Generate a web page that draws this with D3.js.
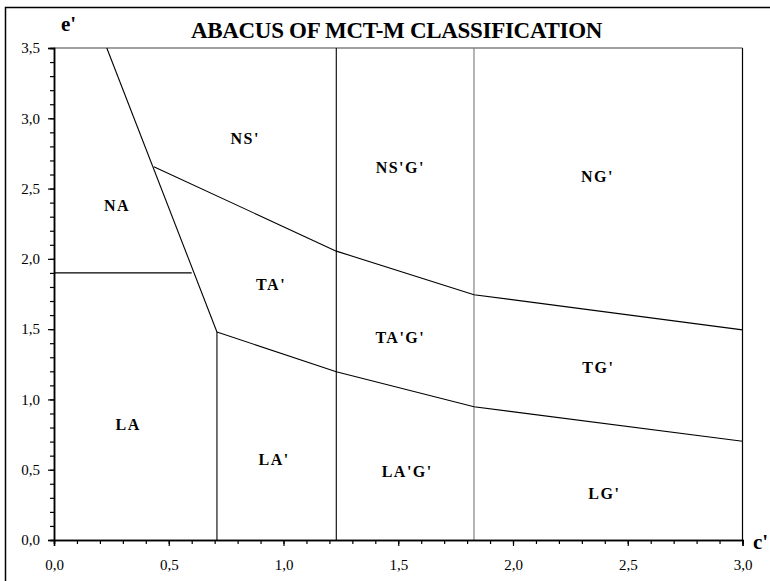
<!DOCTYPE html>
<html>
<head>
<meta charset="utf-8">
<script src="https://cdn.jsdelivr.net/npm/d3@7"></script>
<style>
  html, body { margin: 0; padding: 0; background: #fff; }
  svg { display: block; }
</style>
</head>
<body>
<svg id="chart" width="770" height="581"></svg>
<script>
// Axis extents and tick values
const xDomain = [0, 3];
const yDomain = [0, 3.5];
const xMajorTicks = [0, 0.5, 1, 1.5, 2, 2.5, 3];
const yMajorTicks = [0, 0.5, 1, 1.5, 2, 2.5, 3, 3.5];

// Class boundaries (c', e')
const steepBoundary = [[0.23, 3.5], [0.71, 1.48]];
const naLaBoundary = [[0, 1.9], [0.6, 1.9]];
const laSplit = [[0.71, 0], [0.71, 1.48]];
const upperBoundary = [[0.435, 2.655], [1.23, 2.055], [1.83, 1.745], [3.0, 1.495]];
const lowerBoundary = [[0.71, 1.48], [1.23, 1.197], [1.83, 0.948], [3.0, 0.702]];
const gSplitA = [[1.23, 0], [1.23, 3.5]];
const gSplitB = [[1.83, 0], [1.83, 3.5]];

// Region names and where they sit (c', e')
const regionNames = ["NS'", "NS'G'", "NG'", "NA", "TA'", "TA'G'", "TG'", "LA", "LA'", "LA'G'", "LG'"];
const regionC = [0.833, 1.509, 2.368, 0.275, 0.946, 1.509, 2.372, 0.323, 0.959, 1.539, 2.398];
const regionE = [2.86, 2.65, 2.59, 2.38, 1.82, 1.44, 1.23, 0.825, 0.576, 0.49, 0.334];

const SERIF = "Liberation Serif";

const svg = d3.select("#chart");
const margin = { left: 54, right: 770 - 742.5, top: 48, bottom: 581 - 540 };
const W = 770, H = 581;

const x = d3.scaleLinear().domain(xDomain).range([margin.left, W - margin.right]);
const y = d3.scaleLinear().domain(yDomain).range([H - margin.bottom, margin.top]);

// Outer frame
svg.append("rect")
  .attr("x", 5.5).attr("y", 7.5).attr("width", 900).attr("height", 900)
  .attr("fill", "none").attr("stroke", "#000").attr("stroke-width", 1.5);

// Title and axis names
svg.append("text")
  .attr("x", 396.5).attr("y", 38)
  .attr("text-anchor", "middle")
  .style("font-family", SERIF)
  .style("font-size", "23px").style("font-weight", "bold")
  .style("letter-spacing", "-0.3px")
  .text("ABACUS OF MCT-M CLASSIFICATION");

svg.append("text")
  .attr("x", 61).attr("y", 31)
  .style("font-family", SERIF)
  .style("font-size", "21px").style("font-weight", "bold")
  .text("e'");

svg.append("text")
  .attr("x", 753).attr("y", 549)
  .style("font-family", SERIF)
  .style("font-size", "21px").style("font-weight", "bold")
  .text("c'");

// Top plot border (grey) and right border
svg.append("line")
  .attr("x1", x(0)).attr("x2", x(3)).attr("y1", y(3.5)).attr("y2", y(3.5))
  .attr("stroke", "#808080").attr("stroke-width", 1.5);
svg.append("line")
  .attr("x1", x(3)).attr("x2", x(3)).attr("y1", y(3.5)).attr("y2", y(0))
  .attr("stroke", "#000").attr("stroke-width", 1.2);

const line = d3.line().x(d => x(d[0])).y(d => y(d[1]));

function drawPath(pts, color, w) {
  svg.append("path").datum(pts)
    .attr("d", line)
    .attr("fill", "none")
    .attr("stroke", color)
    .attr("stroke-width", w);
}

drawPath(gSplitA, "#000", 1.1);
drawPath(gSplitB, "#777", 1.1);
drawPath(steepBoundary, "#000", 1.1);
drawPath(naLaBoundary, "#000", 1.1);
drawPath(laSplit, "#000", 1.1);
drawPath(upperBoundary, "#000", 1.1);
drawPath(lowerBoundary, "#000", 1.1);

// Axes: minor ticks every 0.1, labelled major ticks every 0.5
const fmt = d => d3.format(".1f")(d).replace(".", ",");
const xMinor = d3.range(0, 31).map(i => i / 10);
const yMinor = d3.range(0, 36).map(i => i / 10);

function styleAxis(g) {
  g.attr("font-family", SERIF).attr("font-size", 15);
  g.select(".domain").attr("stroke", "#000").attr("stroke-width", 1.5);
  g.selectAll(".tick line").attr("stroke", "#000").attr("stroke-width", 1.2);
  g.selectAll(".tick text").attr("fill", "#000");
}

svg.append("g").attr("transform", `translate(0,${y(0)})`)
  .call(d3.axisBottom(x).tickValues(xMinor).tickSize(4).tickFormat(""))
  .call(styleAxis);
svg.append("g").attr("transform", `translate(0,${y(0)})`)
  .call(d3.axisBottom(x).tickValues(xMajorTicks).tickSize(6).tickFormat(fmt).tickPadding(13))
  .call(styleAxis);

svg.append("g").attr("transform", `translate(${x(0)},0)`)
  .call(d3.axisLeft(y).tickValues(yMinor).tickSize(4).tickFormat(""))
  .call(styleAxis);
svg.append("g").attr("transform", `translate(${x(0)},0)`)
  .call(d3.axisLeft(y).tickValues(yMajorTicks).tickSize(6).tickFormat(fmt).tickPadding(8))
  .call(styleAxis);

// Region labels
svg.append("g").selectAll("text")
  .data(regionNames)
  .join("text")
  .attr("x", (d, i) => x(regionC[i]))
  .attr("y", (d, i) => y(regionE[i]))
  .attr("dy", "0.35em")
  .attr("text-anchor", "middle")
  .style("font-family", SERIF)
  .style("font-size", "16px")
  .style("font-weight", "bold")
  .style("letter-spacing", "1.5px")
  .text(d => d);
</script>
</body>
</html>
